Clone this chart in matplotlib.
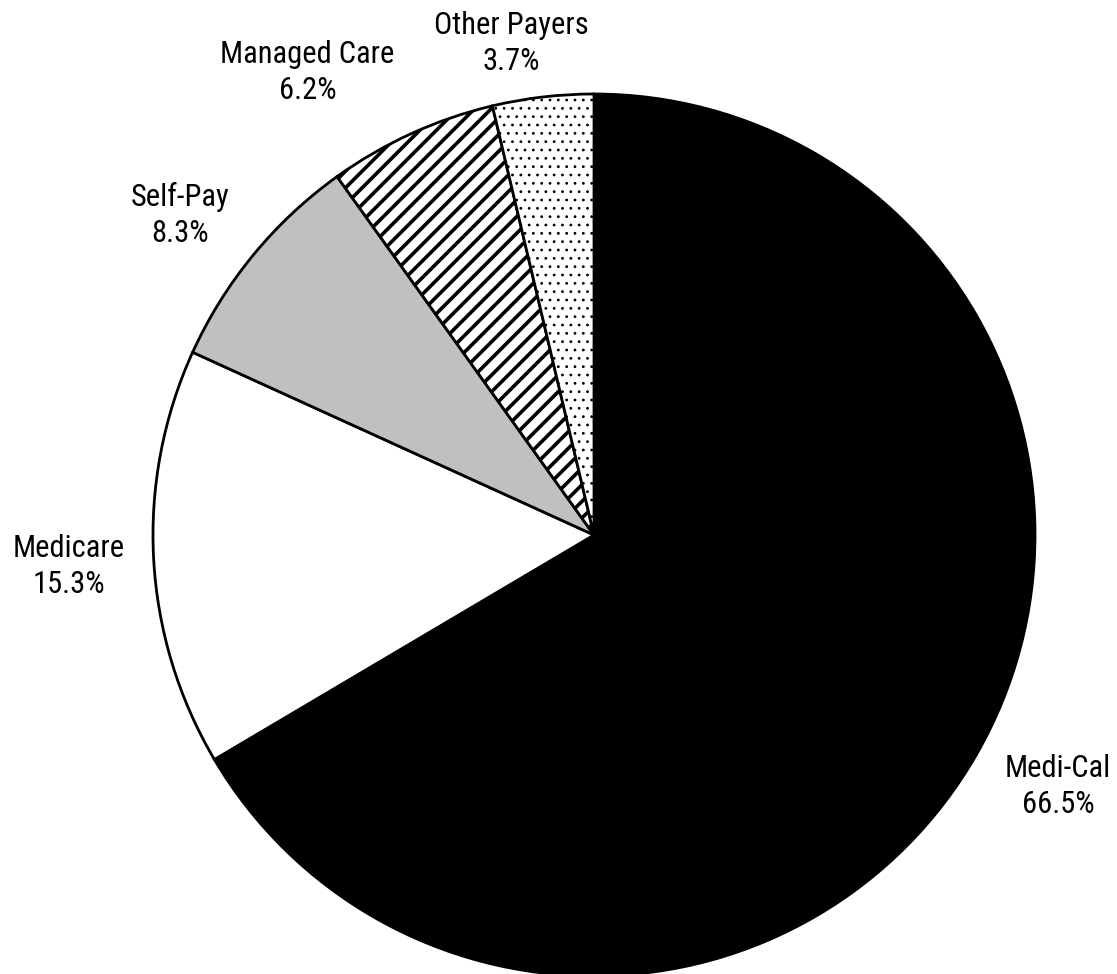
import numpy as np
import matplotlib

matplotlib.use("Agg")
import matplotlib.pyplot as plt
from matplotlib.transforms import offset_copy

plt.rcParams["font.family"] = ["Roboto Condensed", "DejaVu Sans"]

categories = ["Medi-Cal", "Medicare", "Self-Pay", "Managed Care", "Other Payers"]
shares = [66.5, 15.3, 8.3, 6.2, 3.7]

# fill style per slice
face_colors = ["black", "white", "#c0c0c0", "white", "white"]
hatches = [None, None, None, "//", ".."]

# label placement: (angle deg, distance in radii), hand-tuned
label_pos = [(-28.2, 1.194), (183.1, 1.192), (142.0, 1.191), (121.6, 1.240), (99.5, 1.136)]

W, H, DPI = 1117, 974, 100
cx, cy, R = 594, 535, 441

fig = plt.figure(figsize=(W / DPI, H / DPI), dpi=DPI)
ax = fig.add_axes([(cx - R) / W, (H - cy - R) / H, 2 * R / W, 2 * R / H])

wedges, _ = ax.pie(
    shares, startangle=90, counterclock=False, radius=1.0,
    colors=face_colors,
    wedgeprops=dict(edgecolor="black", linewidth=2.0),
)
ax.set_xlim(-1, 1)
ax.set_ylim(-1, 1)
ax.set_aspect("equal")
ax.axis("off")
for w, h in zip(wedges, hatches):
    if h:
        w.set_hatch(h)
        try:
            w.set_hatch_linewidth(2.6 if h.startswith("/") else 0.8)
        except AttributeError:
            pass
    w.set_clip_on(False)

# va="center" includes the descent of the 2nd line, nudge down a touch
txt_tr = offset_copy(ax.transData, fig=fig, y=-3, units="dots")
for name, pct, (ang, dist) in zip(categories, shares, label_pos):
    a = np.deg2rad(ang)
    ax.text(dist * np.cos(a), dist * np.sin(a), f"{name}\n{pct:.1f}%",
            ha="center", va="center", fontsize=22, linespacing=1.3,
            transform=txt_tr, clip_on=False)

fig.savefig("out.png", dpi=DPI)
